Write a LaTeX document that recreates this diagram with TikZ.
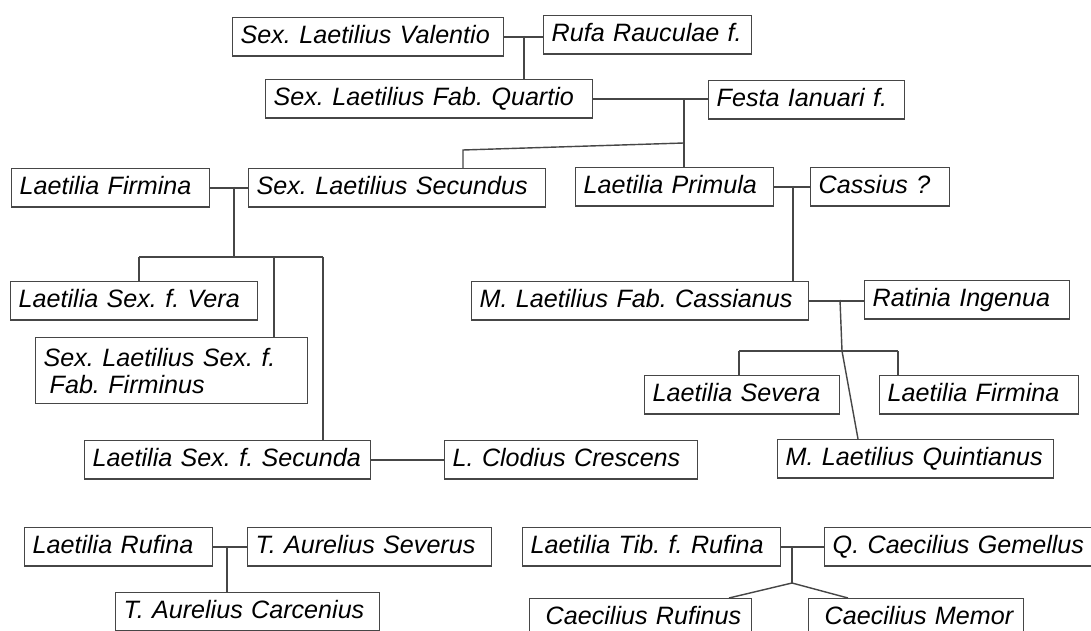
\documentclass[tikz,border=0pt]{standalone}
\usepackage{fontspec}
\setmainfont{Liberation Sans}
\definecolor{lc}{RGB}{70,70,70}
\frenchspacing
\hyphenpenalty=10000
\exhyphenpenalty=10000
\begin{document}
\begin{tikzpicture}[x=0.02cm,y=-0.02cm,
  pbox/.style={draw=lc, line width=0.8pt, anchor=north west, inner xsep=0.16cm, inner ysep=0pt,
    align=left, text width=#1, font=\itshape\fontsize{14.3}{15.5}\selectfont},
  one/.style={minimum height=0.77cm, text height=0.37cm, text depth=0.1cm},
  conn/.style={draw=lc, line width=0.8pt}]
\useasboundingbox (0,0) rectangle (1091,631);
\fill[white] (0,0) rectangle (1091,631);
% nodes
\node[pbox=5.10cm, one] (val) at (232,17) {Sex. Laetilius Valentio};
\node[pbox=3.84cm, one] (rufa) at (543,15) {Rufa Rauculae f.};
\node[pbox=6.22cm, one] (quartio) at (265,79) {Sex. Laetilius Fab. Quartio};
\node[pbox=3.60cm, one] (festa) at (708,80) {Festa Ianuari f.};
\node[pbox=3.64cm, one] (firmL) at (11,168) {Laetilia Firmina};
\node[pbox=5.62cm, one] (secundus) at (248,168) {Sex. Laetilius Secundus};
\node[pbox=3.64cm, one] (primula) at (575,167) {Laetilia Primula};
\node[pbox=2.46cm, one] (cassius) at (810,167) {Cassius ?};
\node[pbox=4.62cm, one] (vera) at (10,281) {Laetilia Sex. f. Vera};
\node[pbox=5.12cm, minimum height=1.32cm] (firminus) at (35,337) {Sex. Laetilius Sex. f.\\\hspace*{0.12cm}Fab. Firminus};
\node[pbox=5.40cm, one] (secunda) at (84,440) {Laetilia Sex. f. Secunda};
\node[pbox=4.74cm, one] (clodius) at (444,440) {L. Clodius Crescens};
\node[pbox=6.42cm, one] (cassianus) at (471,281) {M. Laetilius Fab. Cassianus};
\node[pbox=3.78cm, one] (ratinia) at (864,280) {Ratinia Ingenua};
\node[pbox=3.58cm, one] (severa) at (644,375) {Laetilia Severa};
\node[pbox=3.66cm, one] (firmR) at (879,375) {Laetilia Firmina};
\node[pbox=5.20cm, one] (quintianus) at (777,439) {M. Laetilius Quintianus};
\node[pbox=3.44cm, one] (rufina) at (24,527) {Laetilia Rufina};
\node[pbox=4.56cm, one] (severus) at (247,527) {T. Aurelius Severus};
\node[pbox=4.96cm, one] (carcenius) at (115,592) {T. Aurelius Carcenius};
\node[pbox=4.84cm, one] (tibrufina) at (522,527) {Laetilia Tib. f. Rufina};
\node[pbox=5.06cm, one] (gemellus) at (824,527) {Q. Caecilius Gemellus};
\node[pbox=4.12cm, one] (rufinus) at (529,598) {\hspace*{0.16cm}Caecilius Rufinus};
\node[pbox=3.98cm, one] (memor) at (808,598) {\hspace*{0.16cm}Caecilius Memor};
% coordinates
\coordinate (m1) at (524,36);
\coordinate (m2) at (684,99);
\coordinate (b1) at (684,143);
\coordinate (b2) at (463,150);
\coordinate (m3) at (234,187);
\coordinate (h1) at (234,257);
\coordinate (hl) at (139,257);
\coordinate (hm) at (274,257);
\coordinate (hr) at (323,257);
\coordinate (m4) at (793,186);
\coordinate (m5) at (840,300);
\coordinate (k) at (842,351);
\coordinate (qt) at (858,0);
\coordinate (sl) at (739,351);
\coordinate (sr) at (898,351);
\coordinate (m6) at (227,546.5);
\coordinate (m7) at (792,546.5);
\coordinate (j) at (792,583);
\coordinate (ra) at (729,0);
\coordinate (ma) at (848,0);
% connectors
\draw[conn] (val.east) -- (val.east -| rufa.west);
\draw[conn] (m1) -- (m1 |- quartio.north);
\draw[conn] (quartio.east) -- (quartio.east -| festa.west);
\draw[conn] (m2) -- (m2 |- primula.north);
\draw[conn] (b1) -- (b2) -- (b2 |- secundus.north);
\draw[conn] (firmL.east) -- (secundus.west);
\draw[conn] (m3) -- (h1);
\draw[conn] (hl) -- (hr);
\draw[conn] (hl) -- (hl |- vera.north);
\draw[conn] (hm) -- (hm |- firminus.north);
\draw[conn] (hr) -- (hr |- secunda.north);
\draw[conn] (secunda.east) -- (clodius.west);
\draw[conn] (primula.east) -- (cassius.west);
\draw[conn] (m4) -- (m4 |- cassianus.north);
\draw[conn] (cassianus.east) -- (cassianus.east -| ratinia.west);
\draw[conn] (m5) -- (k) -- (qt |- quintianus.north);
\draw[conn] (sl) -- (sr);
\draw[conn] (sl) -- (sl |- severa.north);
\draw[conn] (sr) -- (sr |- firmR.north);
\draw[conn] (rufina.east) -- (severus.west);
\draw[conn] (m6) -- (m6 |- carcenius.north);
\draw[conn] (tibrufina.east) -- (gemellus.west);
\draw[conn] (m7) -- (j);
\draw[conn] (j) -- (ra |- rufinus.north);
\draw[conn] (j) -- (ma |- memor.north);
\end{tikzpicture}
\end{document}
